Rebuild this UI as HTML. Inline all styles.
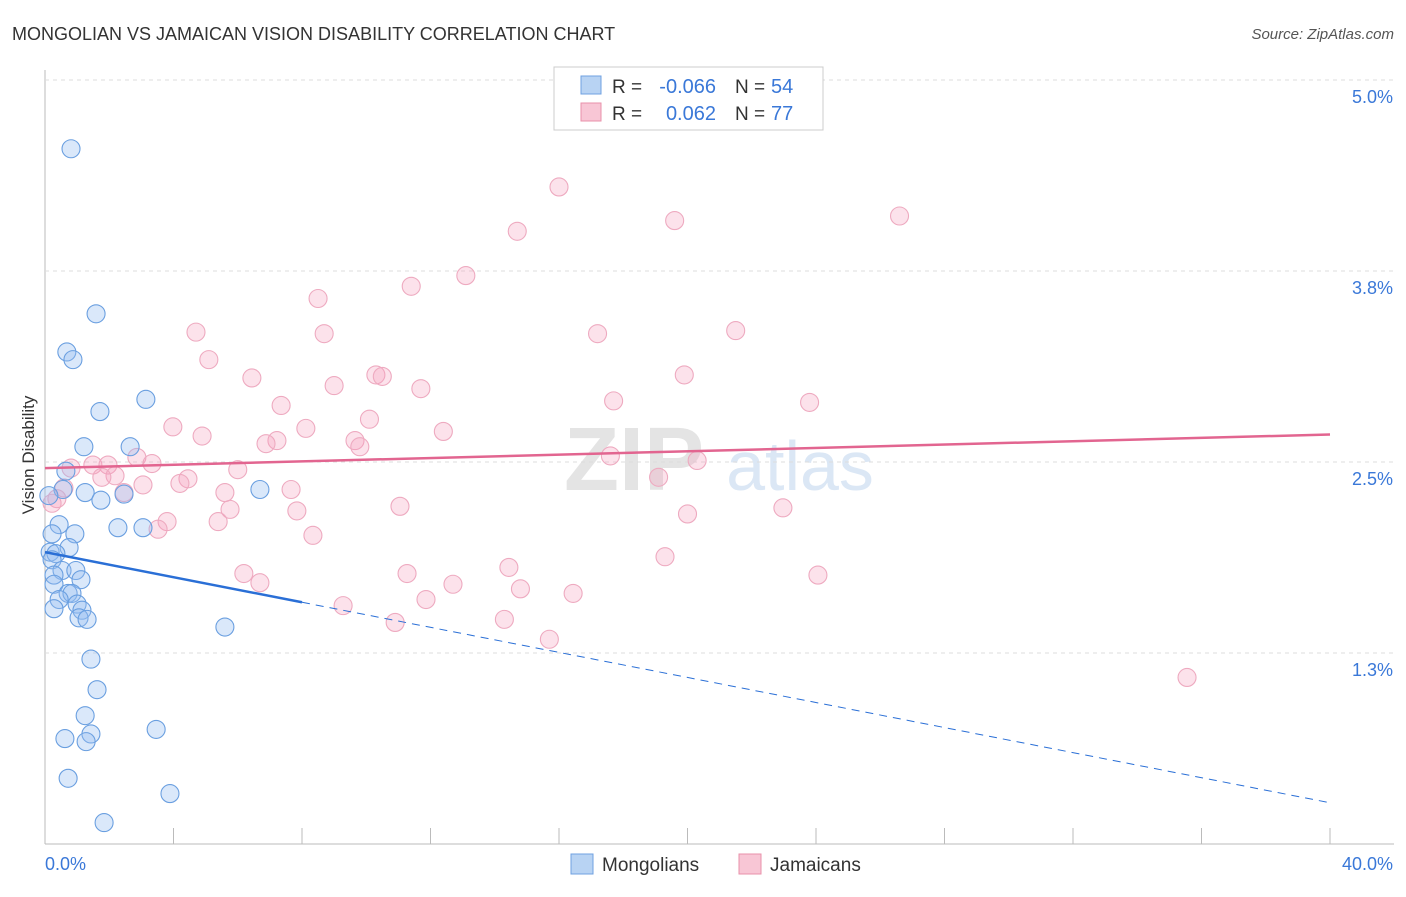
<!DOCTYPE html>
<html><head><meta charset="utf-8"><style>
body{margin:0;background:#fff;font-family:"Liberation Sans",sans-serif}
svg text{font-family:"Liberation Sans",sans-serif}
</style></head><body>
<svg id="c" width="1406" height="892">
<text x="12" y="40" font-size="18" fill="#333">MONGOLIAN VS JAMAICAN VISION DISABILITY CORRELATION CHART</text>
<text x="1394" y="39" font-size="15" fill="#555" text-anchor="end" font-style="italic">Source: ZipAtlas.com</text>
<text x="634" y="490" font-size="90" fill="#e4e4e4" font-family="Liberation Serif" font-weight="bold" text-anchor="middle">ZIP</text>
<text x="800" y="490" font-size="70" fill="#dbe7f5" text-anchor="middle">atlas</text>
<text x="34" y="455" font-size="17" fill="#333" text-anchor="middle" transform="rotate(-90 34 455)">Vision Disability</text>
<g id="grid"></g><g id="pts"></g><g id="trend"></g>
<g>
<rect x="554" y="67" width="269" height="63" fill="#fff" stroke="#ccc"/>
<rect x="581" y="76" width="20" height="18" fill="#b8d3f3" stroke="#6fa0e0"/>
<rect x="581" y="103" width="20" height="18" fill="#f8c6d5" stroke="#e890aa"/>
<text x="612" y="93" font-size="19" fill="#333">R =</text>
<text x="716" y="93" font-size="20" fill="#3a78d8" text-anchor="end">-0.066</text>
<text x="735" y="93" font-size="19" fill="#333">N =</text>
<text x="771" y="93" font-size="20" fill="#3a78d8">54</text>
<text x="612" y="120" font-size="19" fill="#333">R =</text>
<text x="716" y="120" font-size="20" fill="#3a78d8" text-anchor="end">0.062</text>
<text x="735" y="120" font-size="19" fill="#333">N =</text>
<text x="771" y="120" font-size="20" fill="#3a78d8">77</text>
</g>
<g>
<rect x="571" y="854" width="22" height="20" fill="#b8d3f3" stroke="#6fa0e0"/>
<text x="602" y="871" font-size="19" fill="#333">Mongolians</text>
<rect x="739" y="854" width="22" height="20" fill="#f8c6d5" stroke="#e890aa"/>
<text x="770" y="871" font-size="19" fill="#333">Jamaicans</text>
</g>
</svg>
<script>
const yTicks=[1.25,2.5,3.75,5.0];
const yTickLabels=["1.3%","2.5%","3.8%","5.0%"];
const blueX=[0.81,1.59,0.68,0.87,3.14,1.71,1.21,2.65,0.65,0.56,1.25,2.46,6.69,1.74,0.12,2.27,3.05,0.44,0.93,0.22,0.75,0.16,0.34,0.22,0.53,0.96,0.28,1.12,0.28,0.72,0.84,0.44,1.00,1.15,0.28,1.06,1.31,5.60,1.43,1.62,1.25,3.46,1.43,0.62,1.28,0.72,3.89,1.84];
const blueY=[4.55,3.47,3.22,3.17,2.91,2.83,2.60,2.60,2.44,2.32,2.30,2.29,2.32,2.25,2.28,2.07,2.07,2.09,2.03,2.03,1.94,1.91,1.90,1.86,1.79,1.79,1.76,1.73,1.70,1.64,1.64,1.60,1.57,1.53,1.54,1.48,1.47,1.42,1.21,1.01,0.84,0.75,0.72,0.69,0.67,0.43,0.33,0.14];
const pinkX=[16.0,26.6,19.6,14.7,13.1,11.4,8.5,4.70,8.69,17.2,21.5,5.10,19.9,10.3,10.5,6.44,9.0,11.7,17.7,23.8,7.35,10.1,3.98,8.12,12.4,4.89,9.65,7.22,6.88,9.8,2.86,17.6,3.33,20.3,1.49,1.96,0.81,6.0,2.18,1.77,19.1,4.45,4.20,3.05,0.59,7.66,2.46,5.60,0.37,0.22,11.05,22.97,7.84,5.76,20.0,3.80,5.39,3.52,8.34,19.3,14.44,6.19,11.27,24.06,6.69,12.7,14.8,16.44,11.86,9.28,14.3,10.9,15.7,35.55];
const pinkY=[4.30,4.11,4.08,4.01,3.72,3.65,3.57,3.35,3.34,3.34,3.36,3.17,3.07,3.07,3.06,3.05,3.00,2.98,2.90,2.89,2.87,2.78,2.73,2.72,2.70,2.67,2.64,2.64,2.62,2.60,2.53,2.54,2.49,2.51,2.48,2.48,2.46,2.45,2.41,2.40,2.40,2.39,2.36,2.35,2.33,2.32,2.30,2.30,2.26,2.23,2.21,2.20,2.18,2.19,2.16,2.11,2.11,2.06,2.02,1.88,1.81,1.77,1.77,1.76,1.71,1.70,1.67,1.64,1.60,1.56,1.47,1.45,1.34,1.09];
const blueTrend=[1.91,0.27];
const pinkTrend=[2.46,2.68];
const X0=45,X1=1330,Y0=844,YS=191/1.25;
const sx=v=>X0+(v/40)*(X1-X0), sy=v=>Y0-v*YS;
const NS="http://www.w3.org/2000/svg";
function mk(t,a,p){const e=document.createElementNS(NS,t);for(const k in a)e.setAttribute(k,a[k]);p.appendChild(e);return e;}
const grid=document.getElementById('grid');
mk('line',{x1:X0,y1:70,x2:X0,y2:Y0,stroke:'#bbb'},grid);
mk('line',{x1:X0,y1:Y0,x2:1394,y2:Y0,stroke:'#bbb'},grid);
for(let i=0;i<=10;i++){const l=mk('line',{x1:sx(i*4),y1:Y0,x2:sx(i*4),y2:Y0-16,stroke:'#bbb'},grid);

}
yTicks.forEach((t,i)=>{const l=mk('line',{x1:X0,y1:sy(t),x2:1394,y2:sy(t),stroke:'#ddd','stroke-dasharray':'4,4'},grid);


const tx=mk('text',{x:1393,y:sy(t)+23,'font-size':18,fill:'#3a78d8','text-anchor':'end'},grid);tx.textContent=yTickLabels[i];

});
const xl=mk('text',{x:45,y:870,'font-size':18,fill:'#3a78d8'},grid);xl.textContent='0.0%';


const xr=mk('text',{x:1393,y:870,'font-size':18,fill:'#3a78d8','text-anchor':'end'},grid);xr.textContent='40.0%';


const pts=document.getElementById('pts');
pinkX.forEach((v,i)=>{const c=mk('circle',{cx:sx(v),cy:sy(pinkY[i]),r:9,fill:'rgba(244,160,188,0.3)',stroke:'#eeaac0','stroke-width':1.1},pts);

});
blueX.forEach((v,i)=>{const c=mk('circle',{cx:sx(v),cy:sy(blueY[i]),r:9,fill:'rgba(150,190,240,0.35)',stroke:'#6a9fe0','stroke-width':1.1},pts);

});
const tr=document.getElementById('trend');
const bAt=x=>blueTrend[0]+(blueTrend[1]-blueTrend[0])*x/40;
const b1=mk('line',{x1:sx(0),y1:sy(bAt(0)),x2:sx(8),y2:sy(bAt(8)),stroke:'#2a6fd6','stroke-width':2.5},tr);


const b2=mk('line',{x1:sx(8),y1:sy(bAt(8)),x2:sx(40),y2:sy(bAt(40)),stroke:'#2a6fd6','stroke-width':1,'stroke-dasharray':'8,6'},tr);


const p1=mk('line',{x1:sx(0),y1:sy(pinkTrend[0]),x2:sx(40),y2:sy(pinkTrend[1]),stroke:'#e26590','stroke-width':2.5},tr);


</script>
</body></html>
